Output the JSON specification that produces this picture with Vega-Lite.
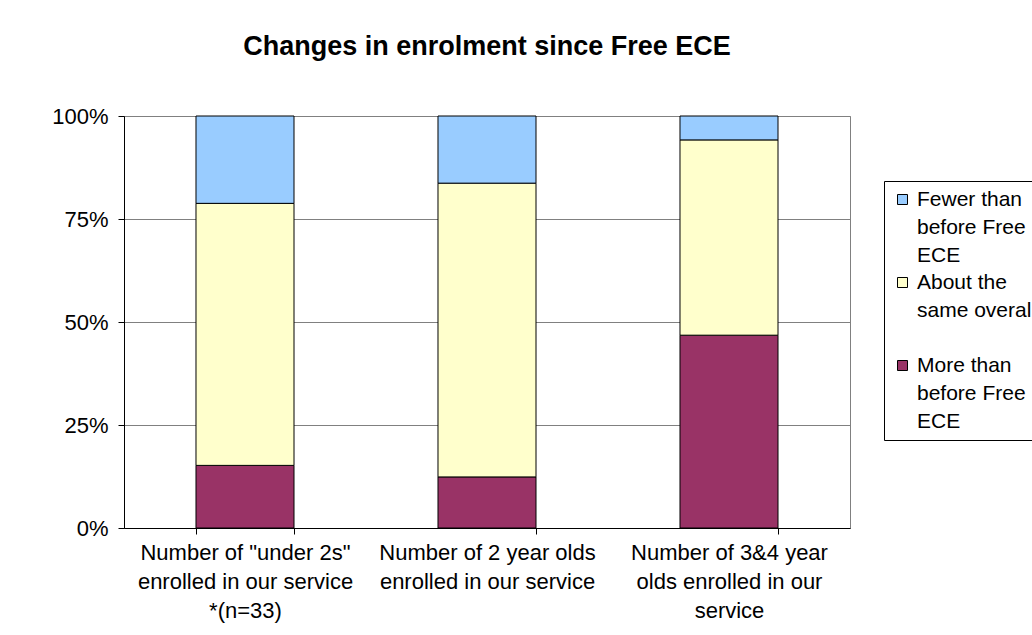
{
  "$schema": "https://vega.github.io/schema/vega-lite/v6.json",
  "autosize": {"type": "none"},
  "padding": {"left": 124, "top": 116, "right": 182, "bottom": 107},
  "width": 726,
  "height": 412,
  "background": "white",
  "title": {
    "text": "Changes in enrolment since Free ECE",
    "font": "Liberation Sans",
    "fontSize": 27,
    "fontWeight": "bold",
    "color": "black",
    "anchor": "middle",
    "baseline": "bottom",
    "offset": 17
  },
  "data": {
    "values": [
      {"group": "Number of \"under 2s\"|enrolled in our service|*(n=33)", "response": "More than before Free ECE", "rank": 1, "pct": 15.2},
      {"group": "Number of \"under 2s\"|enrolled in our service|*(n=33)", "response": "About the same overall", "rank": 2, "pct": 63.6},
      {"group": "Number of \"under 2s\"|enrolled in our service|*(n=33)", "response": "Fewer than before Free ECE", "rank": 3, "pct": 21.2},
      {"group": "Number of 2 year olds|enrolled in our service", "response": "More than before Free ECE", "rank": 1, "pct": 12.4},
      {"group": "Number of 2 year olds|enrolled in our service", "response": "About the same overall", "rank": 2, "pct": 71.3},
      {"group": "Number of 2 year olds|enrolled in our service", "response": "Fewer than before Free ECE", "rank": 3, "pct": 16.3},
      {"group": "Number of 3&4 year|olds enrolled in our|service", "response": "More than before Free ECE", "rank": 1, "pct": 46.8},
      {"group": "Number of 3&4 year|olds enrolled in our|service", "response": "About the same overall", "rank": 2, "pct": 47.4},
      {"group": "Number of 3&4 year|olds enrolled in our|service", "response": "Fewer than before Free ECE", "rank": 3, "pct": 5.8}
    ]
  },
  "mark": {"type": "bar", "stroke": "black", "strokeWidth": 1},
  "encoding": {
    "x": {
      "field": "group",
      "type": "nominal",
      "sort": null,
      "title": null,
      "scale": {"paddingInner": 0.595, "paddingOuter": 0.2975},
      "axis": {
        "labelAngle": 0,
        "labelExpr": "split(datum.label, '|')",
        "labelFont": "Liberation Sans",
        "labelFontSize": 22,
        "labelLineHeight": 29,
        "labelColor": "black",
        "labelBaseline": "top",
        "labelPadding": 8,
        "labelLimit": 400,
        "tickBand": "extent",
        "tickSize": 6,
        "tickColor": "black",
        "domainColor": "black",
        "grid": false
      }
    },
    "y": {
      "field": "pct",
      "type": "quantitative",
      "stack": "normalize",
      "title": null,
      "scale": {"domain": [0, 1], "nice": false},
      "axis": {
        "values": [0, 0.25, 0.5, 0.75, 1],
        "format": ".0%",
        "labelFont": "Liberation Sans",
        "labelFontSize": 22,
        "labelColor": "black",
        "labelPadding": 10,
        "tickSize": 6,
        "tickColor": "black",
        "domainColor": "black",
        "grid": true,
        "gridColor": "#808080"
      }
    },
    "order": {"field": "rank", "type": "quantitative"},
    "color": {
      "field": "response",
      "type": "nominal",
      "title": null,
      "scale": {
        "domain": ["Fewer than before Free ECE", "About the same overall", "More than before Free ECE"],
        "range": ["#99CCFF", "#FFFFCC", "#993366"]
      },
      "legend": {
        "orient": "none",
        "legendX": 760,
        "legendY": 65,
        "strokeColor": "black",
        "fillColor": "white",
        "padding": 8,
        "rowPadding": 5,
        "symbolType": "square",
        "symbolSize": 100,
        "symbolStrokeColor": "black",
        "symbolStrokeWidth": 1,
        "symbolOpacity": 1,
        "labelFont": "Liberation Sans",
        "labelFontSize": 21,
        "labelColor": "black",
        "labelLimit": 300,
        "labelExpr": "datum.label == 'Fewer than before Free ECE' ? ['Fewer than', 'before Free', 'ECE'] : datum.label == 'About the same overall' ? ['About the', 'same overall', ' '] : ['More than', 'before Free', 'ECE']"
      }
    }
  },
  "config": {
    "view": {"stroke": "#808080"},
    "style": {"guide-label": {"lineHeight": 28}}
  }
}
